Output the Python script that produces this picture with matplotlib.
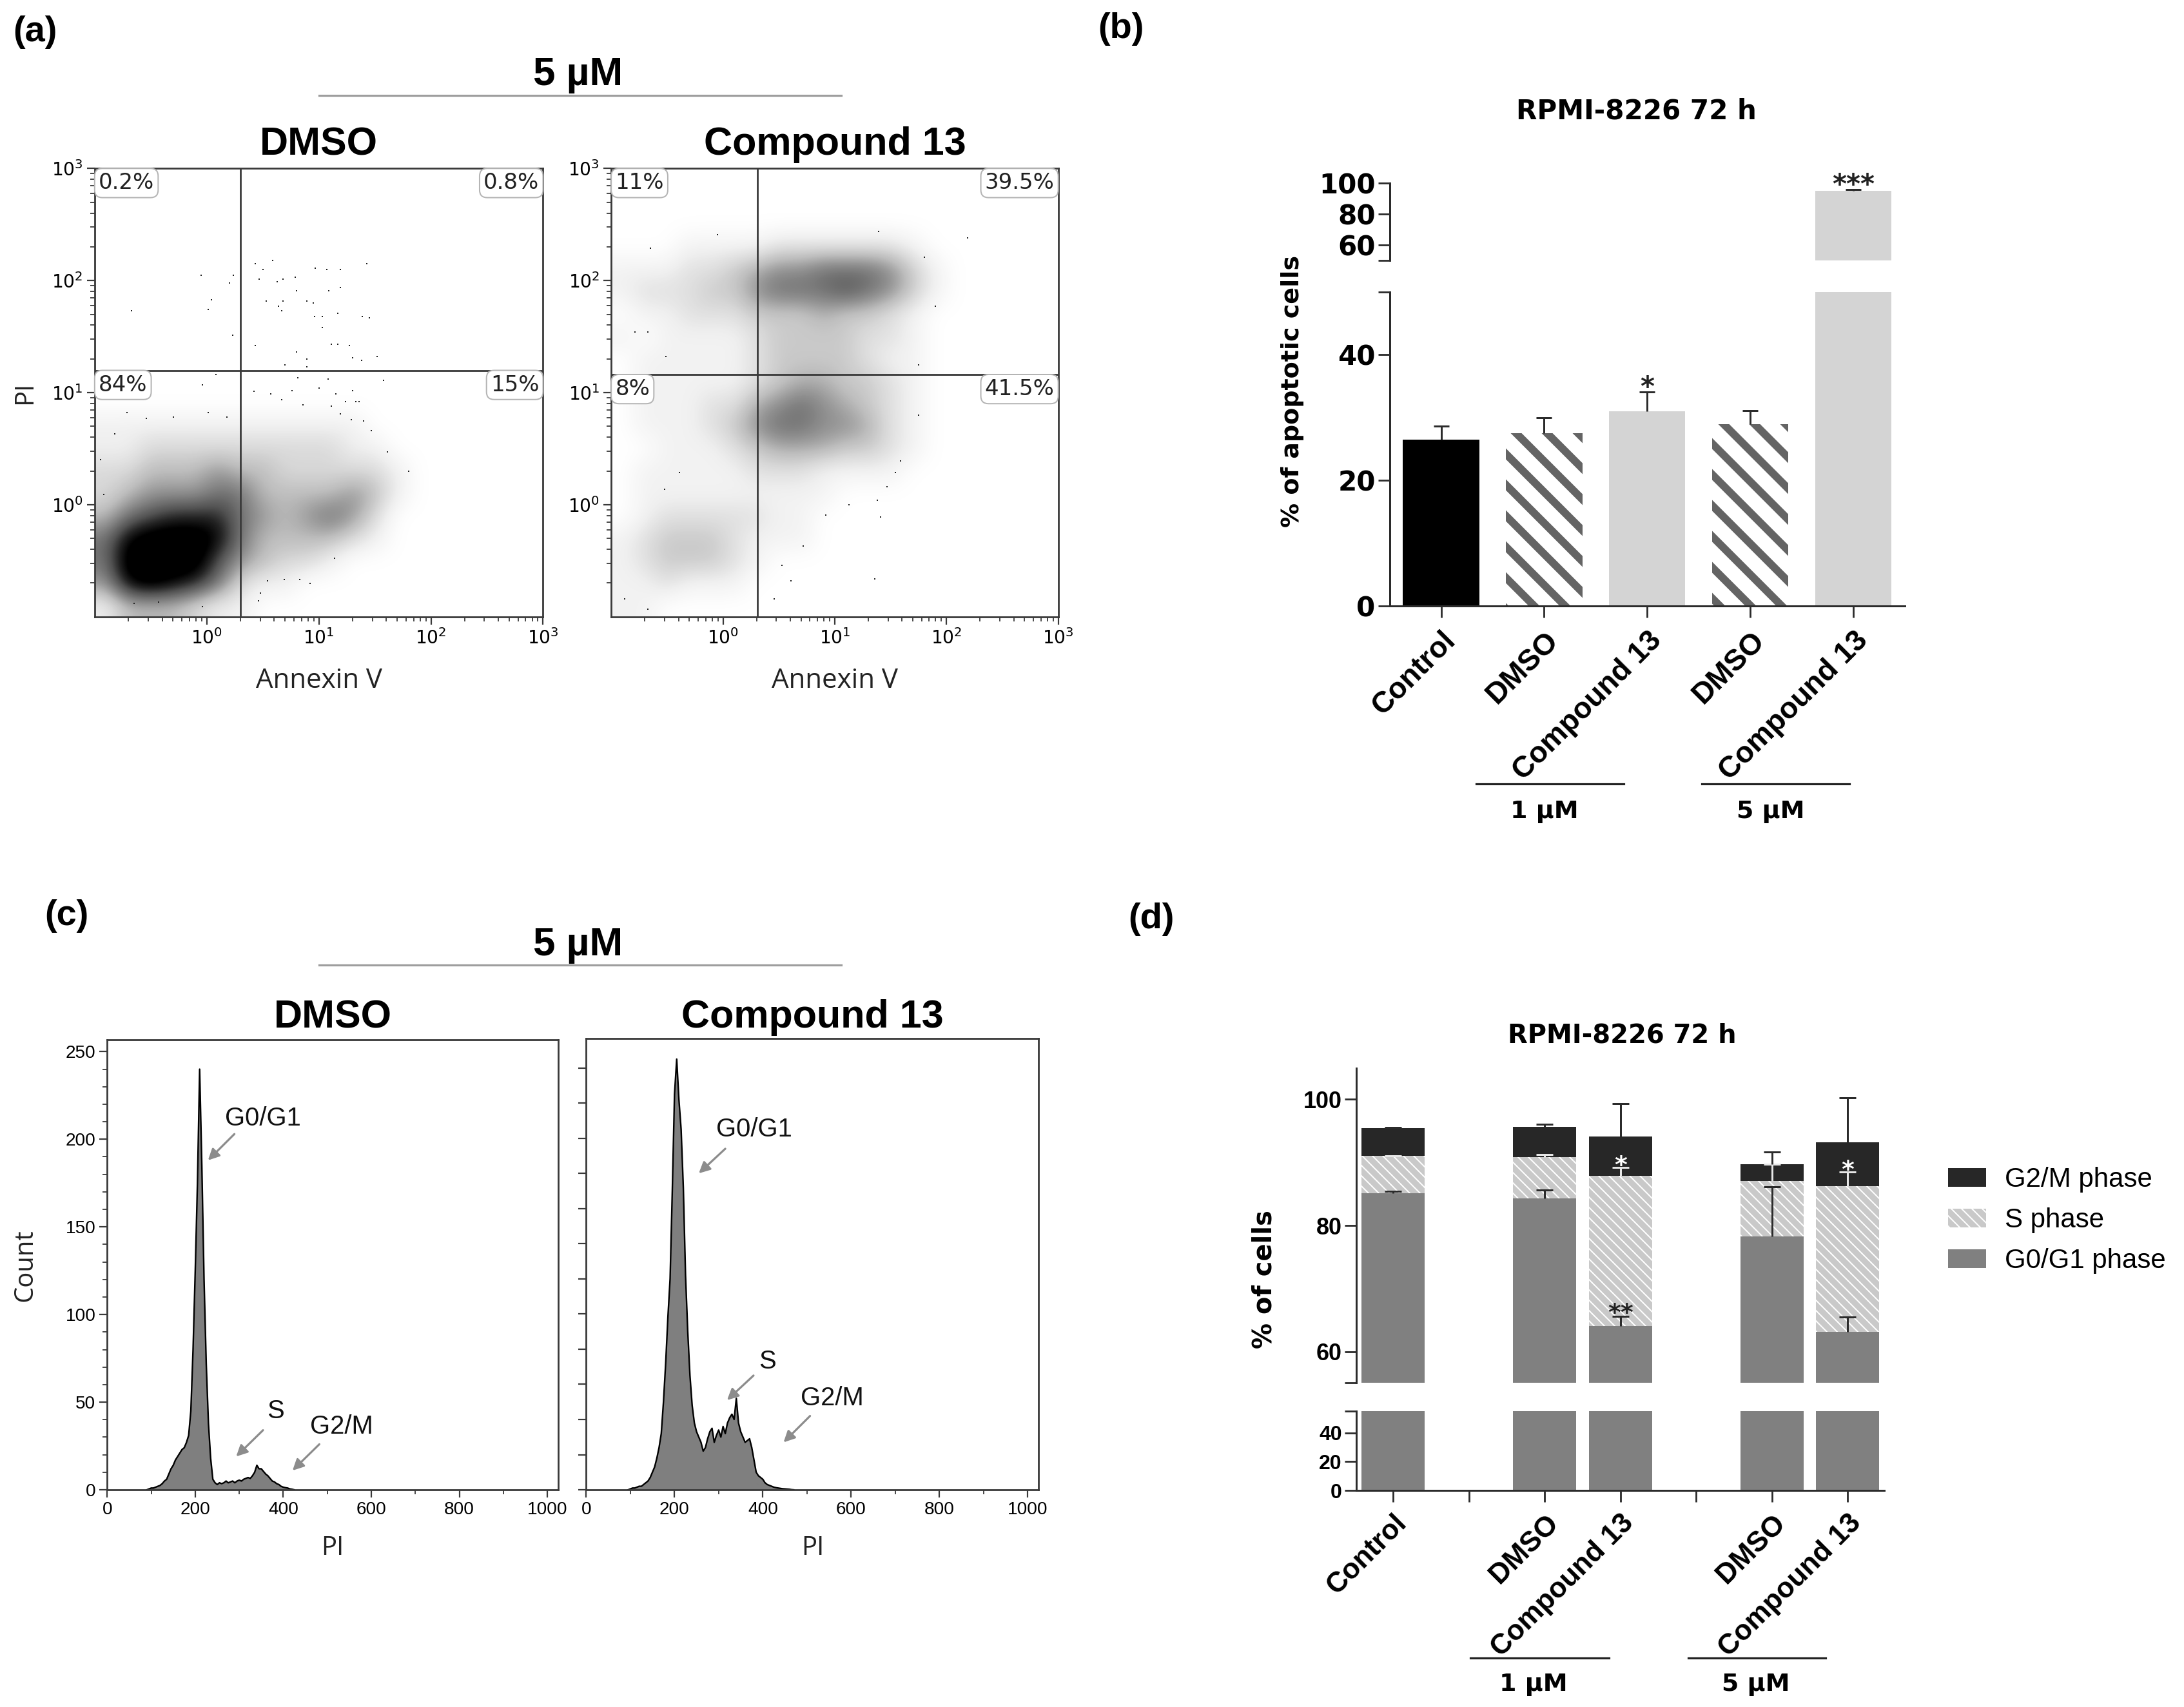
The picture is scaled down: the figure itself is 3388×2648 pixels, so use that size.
#!/usr/bin/env python3
"""
Apoptosis / cell-cycle figure, RPMI-8226 72 h
(a) Annexin V / PI dot plots   (b) % apoptotic cells
(c) PI DNA histograms          (d) cell-cycle phase distribution
"""

import matplotlib as mpl
mpl.use("Agg")
import matplotlib.pyplot as plt
import matplotlib.transforms as mtransforms
from matplotlib.lines import Line2D
from matplotlib.patches import Patch
import numpy as np

DPI = 144
mpl.rcParams.update({
    "font.family": ["Liberation Sans", "DejaVu Sans"],
    "mathtext.fontset": "dejavusans",
    "axes.linewidth": 1.4,
    "xtick.direction": "out",
    "ytick.direction": "out",
})

# layout units: reference page measured as 1568.5 x 1226
W_PX, H_PX = 1568.5, 1226.0

# ── (a) Annexin V / PI dot plots ─────────────────────────────────────────────
# event density on a 0.2-decade grid, log10 -1..3 (rows top -> bottom), 0-9
DMSO_DENSITY = [
    "00000000000000000000",
    "00000000000000000000",
    "00000000000000000000",
    "00000000000000000000",
    "00000000000000000000",
    "00000000000000000000",
    "00000000000000000000",
    "00000000000000000000",
    "00000000000000000000",
    "00000000000000000000",
    "00000000000000000000",
    "11111111111100000000",
    "11222222222110000000",
    "22333433222221000000",
    "23444553333431000000",
    "35677754345420000000",
    "58999853333210000000",
    "59999643221000000000",
    "48987521100000000000",
    "13332110000000000000",
]
C13_DENSITY = [
    "00000000000000000000",
    "00000000000000000000",
    "00000000000000000000",
    "00011112222221000000",
    "11122345566653100000",
    "12223356667653100000",
    "01122233343321000000",
    "10111123333221000000",
    "01111123333211000000",
    "01111123443321000000",
    "01112245654321000000",
    "01112356655421000000",
    "00111234443321000000",
    "01111122211110000000",
    "01111111110000000000",
    "01222221100000000000",
    "12333211100000000000",
    "12333210000000000000",
    "11211100000000000000",
    "11000000000000000000",
]
# isolated events (log10 Annexin V, log10 PI)
DMSO_SPARSE_LOGX = [
    -0.67, -0.05, 0.04, 0.01, 0.20, 0.24, 0.23, 0.43, 0.50, 0.59,
    0.47, 0.63, 0.68, 0.53, 0.64, 0.68, 0.67, 0.79, 0.80, 0.89,
    0.95, 0.96, 1.03, 0.97, 1.07, 1.19, 1.09, 1.19, 1.17, 1.03,
    1.39, 1.45, 1.43, 0.43, 0.80, 0.89, 0.89, 0.70, 1.11, 1.17,
    1.27, 1.30, 1.38, 1.52,
    -0.04, 0.08, 0.42, 0.57, 0.67, 0.76, 0.81, 0.86, 1.00, 1.08,
    1.15, 1.19, 1.24, 1.30, 1.33, 1.36, 1.58, 1.61, 1.80, 1.40,
    1.47, 1.29, 1.11,
    0.54, 0.46, 0.48, 0.69, 0.83, 0.92, 1.14, -0.04, -0.43, -0.65,
    -0.92, -0.95, -0.82, -0.71, -0.54, -0.30, 0.01, 0.18,
]
DMSO_SPARSE_LOGY = [
    1.73, 2.05, 1.83, 1.74, 1.98, 2.05, 1.51, 2.15, 2.10, 2.18,
    2.01, 1.99, 2.01, 1.82, 1.77, 1.82, 1.73, 2.03, 1.91, 1.82,
    1.80, 1.68, 1.68, 2.11, 2.10, 2.10, 1.91, 1.94, 1.71, 1.58,
    1.68, 1.67, 2.15, 1.42, 1.36, 1.30, 1.23, 1.25, 1.43, 1.43,
    1.42, 1.31, 1.29, 1.32,
    1.07, 1.16, 1.01, 0.99, 0.94, 1.02, 1.13, 0.89, 1.04, 1.12,
    0.99, 0.81, 0.92, 1.02, 0.92, 0.92, 1.11, 0.47, 0.30, 0.75,
    0.66, 0.76, 0.88,
    -0.68, -0.86, -0.79, -0.67, -0.67, -0.70, -0.48, -0.91, -0.87, -0.88,
    0.09, 0.40, 0.63, 0.82, 0.77, 0.78, 0.82, 0.78,
]
C13_SPARSE_LOGX = [
    2.19, 1.39, 1.90, 1.80, 1.75, 1.75, 1.47, 1.13, 1.38, 1.41,
    0.92, 1.36, 0.46, 0.61, -0.88, -0.67, -0.79, -0.67, -0.51, -0.05,
    -0.65, -0.52, -0.39, 0.72, 0.53, 1.59, 1.54,
]
C13_SPARSE_LOGY = [
    2.38, 2.44, 1.77, 2.21, 1.25, 0.80, 0.16, 0.00, 0.04, -0.11,
    -0.09, -0.66, -0.84, -0.68, -0.84, -0.93, 1.54, 1.54, 1.32, 2.41,
    2.29, 0.14, 0.29, -0.37, -0.54, 0.39, 0.29,
]
DMSO_GATE = (2.0, 15.8)      # Annexin V, PI quadrant thresholds
C13_GATE = (2.04, 14.5)
DMSO_QUADRANTS = ["0.2%", "0.8%", "84%", "15%"]   # UL, UR, LL, LR
C13_QUADRANTS = ["11%", "39.5%", "8%", "41.5%"]

# ── (b) apoptotic cells ──────────────────────────────────────────────────────
APOP_LABELS = ["Control", "DMSO", "Compound 13", "DMSO", "Compound 13"]
APOP_MEAN = [26.5, 27.5, 31.0, 28.9, 95.2]
APOP_SD = [2.1, 2.5, 3.1, 2.2, 0.8]
APOP_SIG = ["", "", "*", "", "***"]
DOSE_LABELS = ["1 µM", "5 µM"]

# ── (c) PI histograms (counts every 5 PI units) ──────────────────────────────
HIST_STEP = 5
HIST_DMSO_START = 90
HIST_DMSO = [
    0, 0.5, 1, 1, 1.5, 2, 2.5, 3.5, 5, 6,
    9, 12, 14, 17, 19, 21, 23, 24, 27, 31,
    45, 80, 125, 175, 240, 185, 120, 72, 38, 18,
    6, 4, 3, 4, 3.5, 4, 5, 4, 4.5, 5,
    4, 5, 5.5, 5, 6, 6.5, 7, 6.5, 8, 10,
    14, 12, 12, 10.5, 9, 8, 6.5, 5, 4.5, 3.5,
    3, 2, 1.5, 1.2, 1, 0.5, 0.3, 0,
]
HIST_C13_START = 95
HIST_C13 = [
    0, 0.5, 1, 1, 1.5, 2, 2, 3, 4, 5,
    7, 10, 13, 18, 24, 32, 50, 72, 98, 120,
    170, 225, 245, 222, 205, 172, 122, 90, 65, 48,
    38, 33, 30, 27, 22, 24, 29, 33, 35, 27,
    31, 34, 30, 36, 32, 38, 41, 43, 40, 52,
    38, 33, 30, 27, 28, 29, 24, 17, 10, 8,
    7, 6, 4, 3, 2.5, 2, 1.5, 1.2, 1, 0.8,
    0.6, 0.5, 0.4, 0.3, 0.1, 0,
]

# ── (d) cell-cycle distribution (%) ──────────────────────────────────────────
CC_POS = [0, 2, 3, 5, 6]
CC_LABELS = ["Control", "DMSO", "Compound 13", "DMSO", "Compound 13"]
CC_G0G1 = [85.1, 84.3, 64.0, 78.3, 63.1]
CC_S = [5.9, 6.5, 23.9, 8.8, 23.1]
CC_G2M = [4.4, 4.9, 6.2, 2.6, 7.0]
CC_G0G1_SD = [0.3, 1.3, 1.6, 7.8, 2.4]
CC_S_SD = [0.1, 0.5, 1.3, 2.6, 2.3]
CC_G2M_SD = [0.1, 0.4, 5.2, 2.0, 7.1]
CC_SIG_G0G1 = ["", "", "**", "", ""]
CC_SIG_S = ["", "", "*", "", "*"]

# ── Colours ──────────────────────────────────────────────────────────────────
CLR_AXIS = "#3a3a3a"
CLR_RULE = "#9e9e9e"
CLR_HIST = "#7f7f7f"
CLR_ARROW = "#8c8c8c"
CLR_C13 = "#d4d4d4"
CLR_STRIPE = "#646464"
CLR_G0 = "#808080"
CLR_S = "#c9c9c9"
CLR_G2 = "#272727"
BOLD_B = dict(family="DejaVu Sans", fontweight="bold")
BOLD_L = dict(family="Liberation Sans", fontweight="bold")

fig = plt.figure(figsize=(3388 / DPI, 2648 / DPI), dpi=DPI)


def px_rect(l, t, r, b):
    return [l / W_PX, 1 - b / H_PX, (r - l) / W_PX, (b - t) / H_PX]


def fxy(x, y):
    return x / W_PX, 1 - y / H_PX


def rule(x0, x1, y, color=CLR_RULE, lw=1.6):
    fig.add_artist(Line2D([x0 / W_PX, x1 / W_PX], [1 - y / H_PX] * 2,
                          color=color, lw=lw, transform=fig.transFigure))


def style_spines(ax, color=CLR_AXIS, lw=1.4):
    for sp in ax.spines.values():
        sp.set_color(color)
        sp.set_linewidth(lw)


# ── panel letters and dose headers ───────────────────────────────────────────
for lab, (x, y) in zip(["(a)", "(b)", "(c)", "(d)"],
                       [(25, 23), (805, 21), (48, 658), (827, 660)]):
    fig.text(*fxy(x, y), lab, ha="center", va="center", fontsize=28,
             fontweight="bold")

for y_txt, y_line in [(54, 68.5), (679, 693)]:
    fig.text(*fxy(415, y_txt), "5 µM", ha="center", va="center",
             fontsize=31, fontweight="bold")
    rule(229, 604, y_line)


# ── (a) dot plots ────────────────────────────────────────────────────────────
def dot_plot(box, density, vmax, logx, logy, gate, quads, title, ylabel):
    ax = fig.add_axes(px_rect(*box))
    grid = np.array([[int(ch) for ch in row] for row in density], float)
    ax.imshow(grid, cmap="Greys", vmin=0, vmax=vmax, extent=(-1, 3, -1, 3),
              origin="upper", interpolation="bicubic", aspect="auto",
              zorder=1)
    ax.scatter(logx, logy, s=2, marker="s", color="#202020", linewidths=0,
               zorder=2)
    gx, gy = np.log10(gate)
    ax.axvline(gx, color=CLR_AXIS, lw=1.4, zorder=3)
    ax.axhline(gy, color=CLR_AXIS, lw=1.4, zorder=3)
    ax.set_xlim(-1, 3)
    ax.set_ylim(-1, 3)

    major = [0, 1, 2, 3]
    minor = [n + np.log10(k) for n in range(-1, 3) for k in range(2, 10)]
    labels = [rf"$10^{{{m}}}$" for m in major]
    for axis in (ax.xaxis, ax.yaxis):
        axis.set_ticks(major, labels)
        axis.set_ticks(minor, minor=True)
    ax.tick_params(which="major", length=6, width=1.1, labelsize=14,
                   color=CLR_AXIS, pad=3)
    ax.tick_params(which="minor", length=3.5, width=0.9, color=CLR_AXIS)
    style_spines(ax)

    box_kw = dict(boxstyle="round,pad=0.18,rounding_size=0.35", fc="white",
                  ec="#b4b4b4", lw=1.0)
    spots = [(-0.965, 2.965, "left"), (2.965, 2.965, "right"),
             (-0.965, gy - 0.035, "left"), (2.965, gy - 0.035, "right")]
    for txt, (x, y, ha) in zip(quads, spots):
        ax.text(x, y, txt, ha=ha, va="top", fontsize=17,
                family="DejaVu Sans", color="#222222", bbox=box_kw, zorder=5)

    cx = (box[0] + box[2]) / 2
    fig.text(*fxy(cx, 104), title, ha="center", va="center", fontsize=30.5,
             fontweight="bold")
    fig.text(*fxy(cx, 489), "Annexin V", ha="center", va="center",
             fontsize=21, family="Open Sans", color="#222222")
    if ylabel:
        fig.text(*fxy(18, (box[1] + box[3]) / 2), "PI", ha="center",
                 va="center", rotation=90, fontsize=20, family="Open Sans",
                 color="#222222")
    return ax


dot_plot((68, 121, 390, 443), DMSO_DENSITY, 8, DMSO_SPARSE_LOGX,
         DMSO_SPARSE_LOGY, DMSO_GATE, DMSO_QUADRANTS, "DMSO", True)
dot_plot((439, 121, 760, 443), C13_DENSITY, 9.5, C13_SPARSE_LOGX,
         C13_SPARSE_LOGY, C13_GATE, C13_QUADRANTS, "Compound 13", False)


# ── (c) PI histograms ────────────────────────────────────────────────────────
def histogram(box, start, counts, title, notes, labelled):
    ax = fig.add_axes(px_rect(*box))
    pi = start + HIST_STEP * np.arange(len(counts))
    ax.fill_between(pi, counts, 0, color=CLR_HIST, lw=0, zorder=1)
    ax.plot(pi, counts, color="black", lw=1.2, zorder=2)
    ax.set_xlim(0, 1025)
    ax.set_ylim(0, 256.6)
    ax.set_xticks(np.arange(0, 1001, 200))
    ax.set_xticks(np.arange(100, 1000, 200), minor=True)
    if labelled:
        ax.set_yticks(np.arange(0, 251, 50))
        ax.set_yticks(np.arange(0, 251, 10), minor=True)
        fig.text(*fxy(18, (box[1] + box[3]) / 2), "Count", ha="center",
                 va="center", rotation=90, fontsize=20, family="Open Sans",
                 color="#222222")
    else:
        ax.set_yticks(np.arange(0, 241, 20), [])
    ax.tick_params(which="major", length=6, width=1.1, labelsize=14,
                   color=CLR_AXIS, pad=3)
    ax.tick_params(which="minor", length=3.5, width=0.9, color=CLR_AXIS)
    style_spines(ax)
    for txt, txy, ha, tail, head in notes:
        ax.text(*txy, txt, ha=ha, va="center", fontsize=20, color="#111111",
                zorder=4)
        ax.annotate("", xy=head, xytext=tail, zorder=4,
                    arrowprops=dict(arrowstyle="-|>", color=CLR_ARROW,
                                    lw=1.6, mutation_scale=18,
                                    shrinkA=0, shrinkB=0))
    cx = (box[0] + box[2]) / 2
    fig.text(*fxy(cx, 731), title, ha="center", va="center", fontsize=30.5,
             fontweight="bold")
    fig.text(*fxy(cx, 1112), "PI", ha="center", va="center", fontsize=20,
             family="Open Sans", color="#222222")


NOTES_DMSO = [
    ("G0/G1", (268, 212), "left", (289, 203), (229, 188)),
    ("S", (382, 45), "center", (354, 34), (293, 19)),
    ("G2/M", (461, 36), "left", (482, 26), (421, 11)),
]
NOTES_C13 = [
    ("G0/G1", (294, 205), "left", (315, 194), (255, 180)),
    ("S", (411, 73), "center", (379, 65), (319, 51)),
    ("G2/M", (486, 52), "left", (507, 42), (447, 27)),
]
histogram((77, 747, 401, 1070), HIST_DMSO_START, HIST_DMSO, "DMSO",
          NOTES_DMSO, True)
histogram((421, 746, 746, 1070), HIST_C13_START, HIST_C13, "Compound 13",
          NOTES_C13, False)


# ── broken-axis helpers ──────────────────────────────────────────────────────
def hatched(bars, hatch, lw):
    for b in bars:
        b.set_hatch(hatch)
        if hasattr(b, "set_hatch_linewidth"):
            b.set_hatch_linewidth(lw)


def group_rules(ax, spans, label_x, y_line, y_text, size):
    tr = mtransforms.blended_transform_factory(ax.transData, fig.transFigure)
    for (x0, x1), lx, lab in zip(spans, label_x, DOSE_LABELS):
        ax.plot([x0, x1], [1 - y_line / H_PX] * 2, color="#222222", lw=1.6,
                transform=tr, clip_on=False)
        ax.text(lx, 1 - y_text / H_PX, lab, transform=tr, ha="center",
                va="center", fontsize=size, **BOLD_B)


# ── (b) % apoptotic cells ────────────────────────────────────────────────────
b_lo = fig.add_axes(px_rect(998, 209.7, 1368, 435))
b_hi = fig.add_axes(px_rect(998, 131.7, 1368, 187))
xb = np.arange(len(APOP_MEAN))
face_b = ["black", "white", CLR_C13, "white", CLR_C13]
edge_b = ["black", CLR_STRIPE, CLR_C13, CLR_STRIPE, CLR_C13]
tops_b = np.add(APOP_MEAN, APOP_SD)
for ax in (b_lo, b_hi):
    with mpl.rc_context({"hatch.linewidth": 6.0}):
        bars = ax.bar(xb, APOP_MEAN, width=0.74, color=face_b,
                      edgecolor=edge_b, linewidth=0, zorder=2)
        hatched([bars[1], bars[3]], "\\", 6.0)
    ax.vlines(xb, APOP_MEAN, tops_b, color="#2b2b2b", lw=1.5, zorder=3)
    ax.hlines(tops_b, xb - 0.075, xb + 0.075, color="#2b2b2b", lw=1.5,
              zorder=3)
    ax.set_xlim(-0.5, 4.5)
    style_spines(ax, "#2b2b2b", 1.5)
    ax.spines[["top", "right"]].set_visible(False)
    ax.tick_params(axis="y", length=9, width=1.4, color="#2b2b2b", pad=2)

b_lo.set_ylim(0, 50)
b_lo.set_yticks([0, 20, 40, 50], ["0", "20", "40", ""], fontsize=21, **BOLD_B)
b_hi.set_ylim(50, 100)
b_hi.set_yticks([50, 60, 80, 100], ["", "60", "80", "100"], fontsize=21,
                **BOLD_B)
b_hi.spines["bottom"].set_visible(False)
b_hi.set_xticks([])
b_lo.set_xticks(xb, APOP_LABELS, rotation=45, ha="right", va="top",
                rotation_mode="anchor", fontsize=23, **BOLD_L)
b_lo.tick_params(axis="x", length=9, width=1.4, color="#2b2b2b", pad=7)
for x, top, sig in zip(xb, tops_b, APOP_SIG):
    if sig:
        ax = b_hi if top > 50 else b_lo
        ax.annotate(sig, xy=(x, top), xytext=(0, -3),
                    textcoords="offset points", ha="center", va="baseline",
                    fontsize=21, color="#222222", annotation_clip=False,
                    **BOLD_B)
fig.text(*fxy(1175, 80), "RPMI-8226 72 h", ha="center", va="center",
         fontsize=21, **BOLD_B)
fig.text(*fxy(928, 281), "% of apoptotic cells", ha="center", va="center",
         rotation=90, fontsize=19, **BOLD_B)
group_rules(b_lo, [(0.34, 1.77), (2.53, 3.96)], [1.0, 3.2], 563, 583, 19)


# ── (d) cell-cycle distribution ──────────────────────────────────────────────
d_lo = fig.add_axes(px_rect(974, 1013.5, 1353, 1070.5))
d_hi = fig.add_axes(px_rect(974, 767, 1353, 993.3))
xd = np.array(CC_POS, float)
g0 = np.array(CC_G0G1)
s_top = g0 + np.array(CC_S)
g2_top = s_top + np.array(CC_G2M)
for ax in (d_lo, d_hi):
    ax.bar(xd, CC_G0G1, width=0.835, color=CLR_G0, lw=0, zorder=2)
    with mpl.rc_context({"hatch.linewidth": 1.0}):
        sb = ax.bar(xd, CC_S, bottom=g0, width=0.835, color=CLR_S,
                    edgecolor="white", lw=0, zorder=2)
        hatched(sb, "\\\\\\", 1.0)
    ax.bar(xd, CC_G2M, bottom=s_top, width=0.835, color=CLR_G2, lw=0,
           zorder=2)
    ax.set_xlim(-0.49, 6.48)
    style_spines(ax, "#2b2b2b", 1.5)
    ax.spines[["top", "right"]].set_visible(False)
    ax.tick_params(axis="y", length=9, width=1.4, color="#2b2b2b", pad=2)

for base, sd, clr in [(g0, CC_G0G1_SD, "#2b2b2b"), (s_top, CC_S_SD, "#e6e6e6"),
                      (g2_top, CC_G2M_SD, "#2b2b2b")]:
    hi = base + np.array(sd)
    d_hi.vlines(xd, base, hi, color=clr, lw=1.5, zorder=3)
    d_hi.hlines(hi, xd - 0.11, xd + 0.11, color=clr, lw=1.5, zorder=3)

for x, y, sig in zip(xd, g0 + np.array(CC_G0G1_SD), CC_SIG_G0G1):
    if sig:
        d_hi.annotate(sig, xy=(x, y), xytext=(0, -3),
                      textcoords="offset points", ha="center", va="baseline",
                      fontsize=19, color="#222222", **BOLD_B)
for x, y, sig in zip(xd, s_top + np.array(CC_S_SD), CC_SIG_S):
    if sig:
        d_hi.annotate(sig, xy=(x, y), xytext=(0, -4),
                      textcoords="offset points", ha="center", va="baseline",
                      fontsize=19, color="white", **BOLD_B)

d_hi.set_ylim(55, 105)
d_hi.set_yticks([55, 60, 80, 100], ["", "60", "80", "100"], fontsize=18,
                fontweight="bold")
d_hi.spines["bottom"].set_visible(False)
d_hi.set_xticks([])
d_lo.set_ylim(0, 55)
d_lo.set_yticks([0, 20, 40, 55], ["0", "20", "40", ""], fontsize=16,
                fontweight="bold")
d_lo.set_xticks(range(7), ["Control", "", "DMSO", "Compound 13", "",
                           "DMSO", "Compound 13"],
                rotation=45, ha="right", va="top", rotation_mode="anchor",
                fontsize=22, **BOLD_L)
d_lo.tick_params(axis="x", length=9, width=1.4, color="#2b2b2b", pad=6)
fig.text(*fxy(1165, 744), "RPMI-8226 72 h", ha="center", va="center",
         fontsize=20, **BOLD_B)
fig.text(*fxy(908, 919), "% of cells", ha="center", va="center",
         rotation=90, fontsize=20, **BOLD_B)
group_rules(d_lo, [(1.02, 2.85), (3.90, 5.71)], [1.85, 4.79], 1191, 1210, 19)

with mpl.rc_context({"hatch.linewidth": 1.0}):
    handles = [Patch(facecolor=CLR_G2, lw=0),
               Patch(facecolor=CLR_S, edgecolor="white", lw=0,
                     hatch="\\\\\\"),
               Patch(facecolor=CLR_G0, lw=0)]
    fig.legend(handles, ["G2/M phase", "S phase", "G0/G1 phase"],
               loc="upper left", bbox_to_anchor=fxy(1399, 838),
               frameon=False, fontsize=21, handlelength=1.4,
               handleheight=0.7, handletextpad=0.7, labelspacing=0.55,
               borderpad=0, borderaxespad=0)

fig.savefig("out.png", dpi=DPI)
